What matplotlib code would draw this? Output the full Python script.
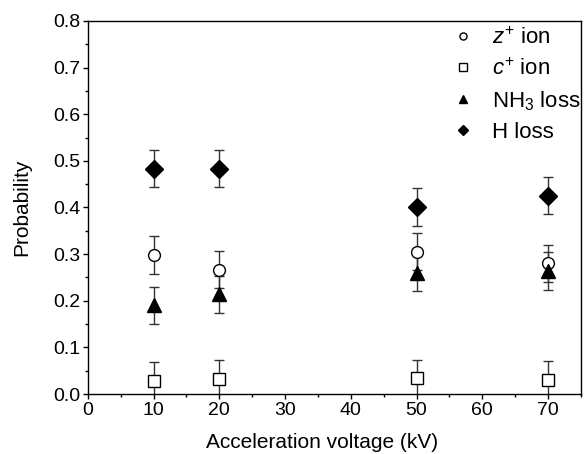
import numpy as np
import matplotlib.pyplot as plt
from matplotlib.ticker import MultipleLocator

plt.rcParams['font.family'] = ['Liberation Sans', 'DejaVu Sans']
plt.rcParams['mathtext.fontset'] = 'custom'
plt.rcParams['mathtext.rm'] = 'Liberation Sans'
plt.rcParams['mathtext.it'] = 'Liberation Sans:italic'

# data
voltage = [10, 20, 50, 70]
z_ion = [0.298, 0.267, 0.305, 0.280]
c_ion = [0.028, 0.033, 0.034, 0.030]
nh3_loss = [0.190, 0.214, 0.260, 0.264]
h_loss = [0.483, 0.483, 0.401, 0.425]
err = [0.04, 0.04, 0.04, 0.04]

fig = plt.figure(figsize=(5.85, 4.54), dpi=100)
ax = fig.add_axes([0.150, 0.132, 0.843, 0.822])

ebkw = dict(ecolor='#333333', elinewidth=1.0, capsize=3.5, capthick=1.0, linestyle='none')
ax.errorbar(voltage, z_ion, yerr=err, marker='o', ms=8.5, mfc='white', mec='black', mew=1.0,
            label=r'$z^{+}$ ion', **ebkw)
ax.errorbar(voltage, c_ion, yerr=err, marker='s', ms=8.5, mfc='white', mec='black', mew=1.0,
            label=r'$c^{+}$ ion', **ebkw)
ax.errorbar(voltage, nh3_loss, yerr=err, marker='^', ms=10.5, mfc='black', mec='black',
            label=r'NH$_3$ loss', **ebkw)
ax.errorbar(voltage, h_loss, yerr=err, marker='D', ms=9, mfc='black', mec='black',
            label='H loss', **ebkw)

ax.set_xlim(0, 75)
ax.set_ylim(0, 0.8)
ax.xaxis.set_major_locator(MultipleLocator(10))
ax.xaxis.set_minor_locator(MultipleLocator(5))
ax.yaxis.set_major_locator(MultipleLocator(0.1))
ax.yaxis.set_minor_locator(MultipleLocator(0.05))
ax.yaxis.set_major_formatter(plt.FormatStrFormatter('%.1f'))
ax.tick_params(which='major', direction='out', length=3.5, width=1, labelsize=14, pad=2)
ax.tick_params(which='minor', direction='out', length=2, width=1)
for s in ax.spines.values():
    s.set_linewidth(1.0)

ax.set_xlabel('Acceleration voltage (kV)', fontsize=15)
ax.set_ylabel('Probability', fontsize=15)
ax.xaxis.set_label_coords(0.475, -0.105)
ax.yaxis.set_label_coords(-0.115, 0.5)

h, l = ax.get_legend_handles_labels()
h = [x[0] for x in h]
ax.legend(h, l, loc='upper right', bbox_to_anchor=(1.012, 1.0), frameon=False,
          fontsize=16, markerscale=0.6, handlelength=0.8, handletextpad=0.9,
          labelspacing=0.42, borderaxespad=0.0, borderpad=0.3)

fig.savefig('out.png', dpi=100)
